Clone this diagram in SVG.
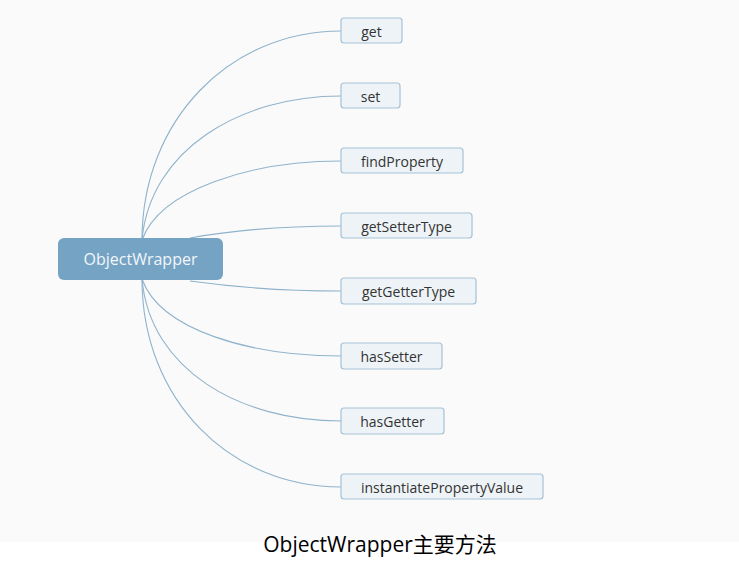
<svg xmlns="http://www.w3.org/2000/svg" width="739" height="573" viewBox="0 0 739 573">
<style>
.bg{fill:#fafafa}
.leaf{fill:#eef3f7;stroke:#a6c2d6;stroke-width:1.2}
.lt{font-family:"Open Sans","Noto Sans",sans-serif;font-size:14px;fill:#333;text-anchor:middle}
.root{fill:#75a3c4}
.rt{font-family:"Open Sans","Noto Sans",sans-serif;font-size:16px;font-weight:500;fill:#f2f6fa;text-anchor:middle}
.c{fill:none;stroke:#8fb3cc;stroke-width:1.1}
.cap{font-family:"Open Sans","Noto Sans CJK SC",sans-serif;font-size:21px;fill:#000;text-anchor:middle}
</style>
<rect class="bg" x="0" y="0" width="739" height="542"/>
<g id="connectors">
<path class="c" d="M142,240 C142,120 230,31 341,31"/>
<path class="c" d="M142,240 C150,150 240,96 341,96"/>
<path class="c" d="M142,240 C160,190 250,161 341,161"/>
<path class="c" d="M190,238 C240,229 290,226 341,226"/>
<path class="c" d="M190,281 C240,288 290,291 341,291"/>
<path class="c" d="M142,279 C160,330 250,356 341,356"/>
<path class="c" d="M142,279 C150,370 240,421 341,421"/>
<path class="c" d="M142,279 C142,400 230,487 341,487"/>
</g>
<g id="n-root"><rect class="root" x="58" y="238" width="165" height="42" rx="6"/><text class="rt" x="140.5" y="265">ObjectWrapper</text></g>
<g id="n-get"><rect class="leaf" x="341" y="18" width="61" height="25" rx="3"/><text class="lt" x="371.5" y="36.5">get</text></g>
<g id="n-set"><rect class="leaf" x="341" y="83" width="59" height="25" rx="3"/><text class="lt" x="370.5" y="101.5">set</text></g>
<g id="n-findProperty"><rect class="leaf" x="341" y="148" width="122" height="25" rx="3"/><text class="lt" x="402" y="166.5">findProperty</text></g>
<g id="n-getSetterType"><rect class="leaf" x="341" y="213" width="131" height="25" rx="3"/><text class="lt" x="406.5" y="231.5">getSetterType</text></g>
<g id="n-getGetterType"><rect class="leaf" x="341" y="278" width="135" height="26" rx="3"/><text class="lt" x="408.5" y="296.5">getGetterType</text></g>
<g id="n-hasSetter"><rect class="leaf" x="341" y="343" width="101" height="26" rx="3"/><text class="lt" x="391.5" y="361.5">hasSetter</text></g>
<g id="n-hasGetter"><rect class="leaf" x="341" y="408" width="103" height="26" rx="3"/><text class="lt" x="392.5" y="426.5">hasGetter</text></g>
<g id="n-instantiatePropertyValue"><rect class="leaf" x="341" y="474" width="202" height="25" rx="3"/><text class="lt" x="442" y="492.5">instantiatePropertyValue</text></g>
<text class="cap" x="380" y="552">ObjectWrapper主要方法</text>
</svg>
